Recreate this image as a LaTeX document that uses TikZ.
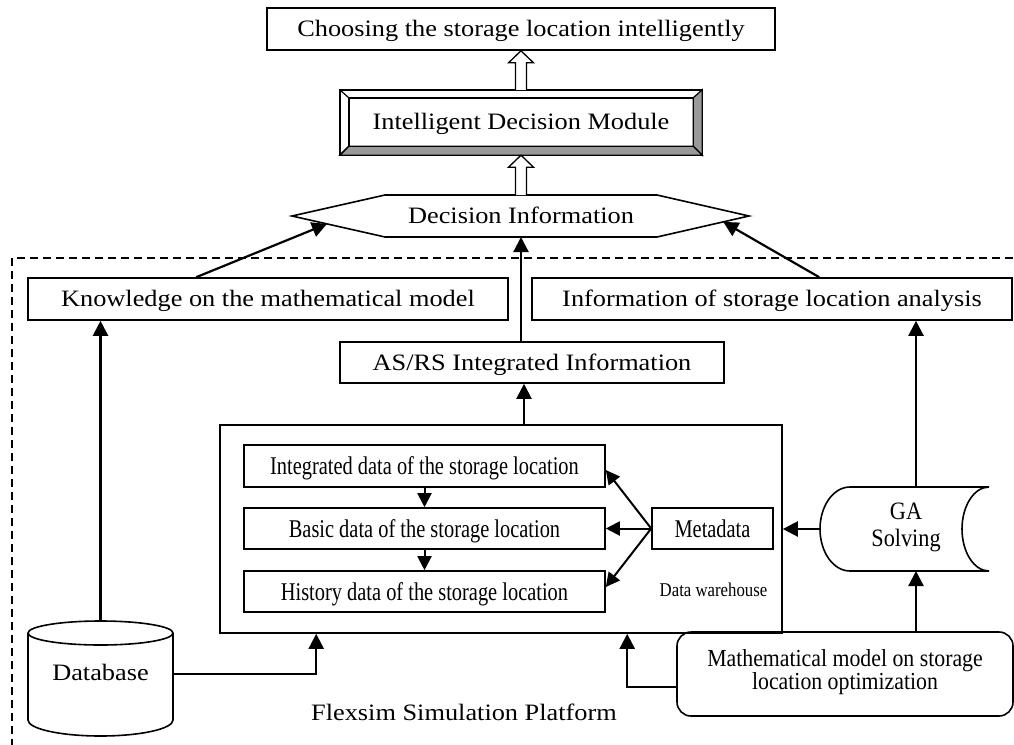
\documentclass[tikz,border=0pt]{standalone}
\usepackage{fontspec}
\setmainfont{Liberation Serif}
\newfontfamily\wideserif{Liberation Serif}[FakeStretch=1.12]
\newfontfamily\condA{Liberation Serif}[FakeStretch=0.8]
\newfontfamily\condB{Liberation Serif}[FakeStretch=0.89]
\newfontfamily\condC{Liberation Serif}[FakeStretch=0.86]
\usetikzlibrary{calc,arrows.meta}

\begin{document}
\begin{tikzpicture}[x=1pt,y=-1pt,
  wide/.style={font=\wideserif\fontsize{23.5}{27}\selectfont,text height=15pt,text depth=0pt},
  smalltext/.style={font=\condA\fontsize{25.5}{27}\selectfont,text height=17pt,text depth=0pt},
  modeltext/.style={font=\condB\fontsize{24.5}{23}\selectfont,align=center},
  box/.style={draw,line width=1.6pt,inner sep=0pt},
  link/.style={line width=2.2pt,-{Triangle[length=15pt,width=15pt]}},
  slink/.style={line width=2pt,-{Triangle[length=14pt,width=14pt]}},
  hollow/.style={draw,line width=1.3pt,fill=white,line join=miter},
  frame/.style={line width=1.4pt,dash pattern=on 8pt off 5pt},
]
\useasboundingbox (0,0) rectangle (1014,744);
\clip (0,0) rectangle (1014,744);

% outer platform frame (runs past the page edges)
\draw[frame] (12,760) -- (12,258) -- (1030,258);

% top result box
\node[box,wide,minimum width=508pt,minimum height=42pt] (choose) at (521,29)
  {Choosing the storage location intelligently};

% bevelled decision module
\node[wide,minimum width=344pt,minimum height=48pt,inner sep=0pt] (idm) at (521,122) {};
\path (idm.north west) ++(-9,-8) coordinate (oNW);
\path (idm.north east) ++(9,-8) coordinate (oNE);
\path (idm.south east) ++(9,9) coordinate (oSE);
\path (idm.south west) ++(-9,9) coordinate (oSW);
\filldraw[fill=white,line width=1.4pt] (oNW) rectangle (oSE);
\filldraw[fill=black!40,line width=1.2pt] (idm.north east) -- (oNE) -- (oSE) -- (idm.south east) -- cycle;
\filldraw[fill=black!40,line width=1.2pt] (idm.south west) -- (oSW) -- (oSE) -- (idm.south east) -- cycle;
\draw[line width=1.2pt] (oNW) -- (idm.north west) (oSW) -- (idm.south west);
\draw[line width=1.4pt] (idm.north west) rectangle (idm.south east);
\node[wide] (idmtext) at (idm.center) {Intelligent Decision Module};
\path (oNW) -- coordinate (idmN) (oNE);
\path (oSW) -- coordinate (idmS) (oSE);

% decision information hexagon
\coordinate (hexW) at (292,216);
\coordinate (hexNW) at (385,195);
\coordinate (hexNE) at (657,195);
\coordinate (hexE) at (749,216);
\coordinate (hexSE) at (657,237);
\coordinate (hexSW) at (385,237);
\draw[line width=1.6pt] (hexW) -- (hexNW) -- (hexNE) -- (hexE) -- (hexSE) -- (hexSW) -- cycle;
\node[wide] (dec) at (521,216) {Decision Information};
\coordinate (hexN) at (521,195);
\coordinate (hexS) at (521,237);
\coordinate (decL) at ($(hexW)!0.376!(hexSW)$);
\coordinate (decR) at ($(hexE)!0.28!(hexSE)$);

% hollow arrows
\draw[hollow] ($(idmN)+(-5.5,0)$) -- ($(choose.south)+(-5.5,12)$) -- ($(choose.south)+(-12.5,12)$)
  -- (choose.south) -- ($(choose.south)+(12.5,12)$) -- ($(choose.south)+(5.5,12)$) -- ($(idmN)+(5.5,0)$);
\draw[hollow] ($(hexN)+(-5.5,0)$) -- ($(idmS)+(-5.5,12)$) -- ($(idmS)+(-12.5,12)$)
  -- (idmS) -- ($(idmS)+(12.5,12)$) -- ($(idmS)+(5.5,12)$) -- ($(hexN)+(5.5,0)$);

% information boxes
\node[box,wide,minimum width=480pt,minimum height=42pt] (know) at (268,299)
  {Knowledge on the mathematical model};
\node[box,wide,minimum width=480pt,minimum height=42pt] (info) at (772,299)
  {Information of storage location analysis};
\node[box,wide,minimum width=384pt,minimum height=41pt] (asrs) at (532,362.5)
  {AS/RS Integrated Information};

% data warehouse
\node[box,minimum width=562pt,minimum height=208pt] (dw) at (501,529) {};
\node[box,smalltext,minimum width=361pt,minimum height=42pt] (integ) at (424.5,466)
  {Integrated data of the storage location};
\node[box,smalltext,minimum width=361pt,minimum height=41pt] (basic) at (424.5,528.5)
  {Basic data of the storage location};
\node[box,smalltext,minimum width=361pt,minimum height=41pt] (hist) at (424.5,591.5)
  {History data of the storage location};
\node[box,smalltext,minimum width=121pt,minimum height=41pt] (meta) at (712.5,528.5) {Metadata};
\node[font=\condC\fontsize{19.5}{22}\selectfont,text height=13pt,text depth=0pt] (dwlabel) at (713.5,590) {Data warehouse};

% GA solving (stored-data symbol)
\draw[line width=1.6pt] (850,487) arc[start angle=90,end angle=270,x radius=30pt,y radius=42pt]
  -- (989,571) arc[start angle=270,end angle=90,x radius=27pt,y radius=42pt] -- cycle;
\node[font=\condB\fontsize{25}{27}\selectfont,text height=16.5pt,text depth=0pt,align=center] (ga) at (906,538.5) {GA\\Solving};
\coordinate (gaN) at (916,487);
\coordinate (gaS) at (916,571);
\coordinate (gaW) at (820,529);

% optimisation model
\node[box,modeltext,rounded corners=14pt,minimum width=336pt,minimum height=84pt,text height=30pt,text depth=0pt] (model) at (845,674)
  {Mathematical model on storage\\location optimization};

% database cylinder
\filldraw[fill=white,line width=1.6pt] (28,633) -- (28,720)
  arc[start angle=180,end angle=360,x radius=72.5pt,y radius=16pt] -- (173,633);
\draw[line width=1.6pt] (100.5,633) ellipse[x radius=72.5pt,y radius=12pt];
\node[wide] (db) at (100.5,673) {Database};
\coordinate (dbN) at (100.5,621);
\coordinate (dbE) at (173,674);

% platform caption
\node[wide] (plat) at (464,713) {Flexsim Simulation Platform};

% connectors
\draw[link] ($(know.north west)+(169,0)$) -- (decL);
\draw[link] ($(info.north west)+(288,0)$) -- (decR);
\draw[link] (asrs.north -| hexS) -- (hexS);
\coordinate (asrsIn) at ($(asrs.south)+(-8,0)$);
\draw[link] (dw.north -| asrsIn) -- (asrsIn);
\draw[link] (dbN) -- (know.south -| dbN);
\draw[link] (dbE) -| ($(dw.south west)+(97,0)$);
\draw[link] ($(model.west)+(0,13)$) -| ($(dw.south west)+(408,0)$);
\draw[link] (model.north -| gaS) -- (gaS);
\draw[link] (gaN) -- (info.south -| gaN);
\draw[link] (gaW) -- (dw.east |- gaW);
\draw[slink] (meta.west) -- ($(integ.east)+(0,4)$);
\draw[slink] (meta.west) -- (basic.east);
\draw[slink] (meta.west) -- ($(hist.east)+(0,-4.5)$);
\draw[slink] (integ.south) -- (basic.north);
\draw[slink] (basic.south) -- (hist.north);
\end{tikzpicture}
\end{document}
